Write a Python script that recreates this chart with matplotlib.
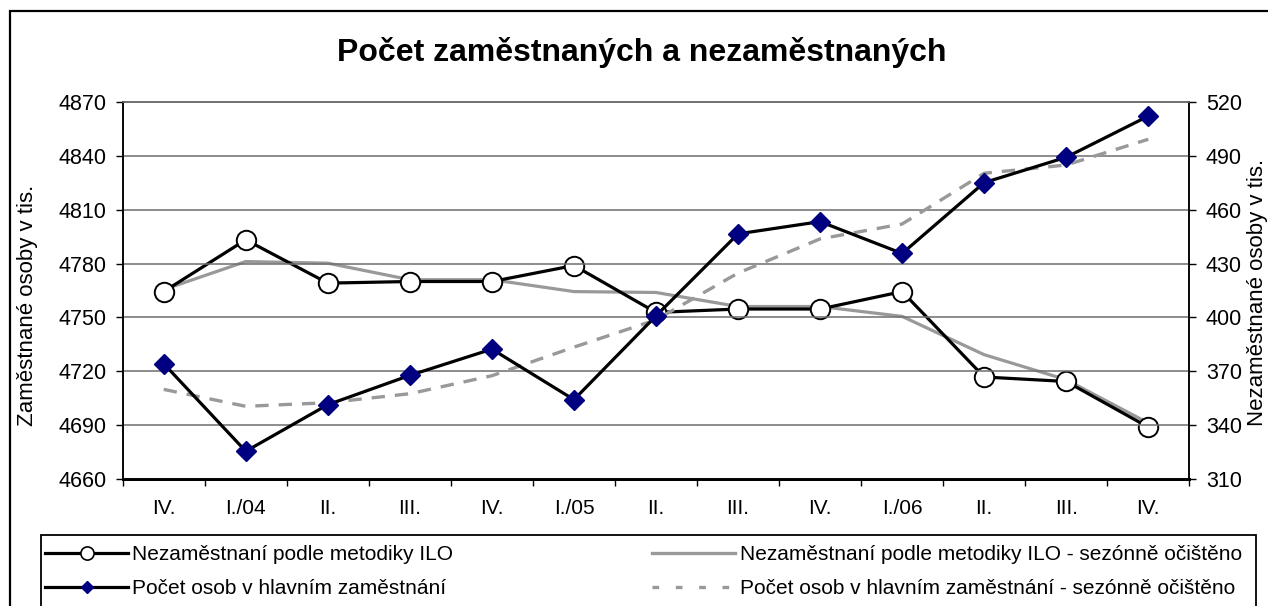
import matplotlib
matplotlib.use('Agg')
import matplotlib.pyplot as plt
from matplotlib.patches import Rectangle
from matplotlib.lines import Line2D
from matplotlib.ticker import FixedLocator

plt.rcParams['font.family'] = ['Liberation Sans', 'DejaVu Sans']

# data
kvartaly = ['IV.', 'I./04', 'II.', 'III.', 'IV.', 'I./05', 'II.', 'III.', 'IV.', 'I./06', 'II.', 'III.', 'IV.']
nezam_ilo = [414.4, 443.2, 419.1, 420.0, 420.0, 428.9, 402.8, 404.7, 404.7, 414.4, 366.9, 364.4, 339.0]
nezam_ilo_sa = [415.5, 431.1, 430.2, 421.0, 421.0, 414.4, 413.9, 406.1, 406.1, 400.6, 379.3, 365.4, 341.3]
zamest = [4724.3, 4675.6, 4701.5, 4717.8, 4732.4, 4704.3, 4750.9, 4796.5, 4803.3, 4785.6, 4825.0, 4839.1, 4862.0]
zamest_sa = [4710.0, 4700.6, 4702.6, 4707.6, 4717.6, 4733.5, 4748.7, 4774.7, 4793.7, 4802.0, 4830.2, 4834.8, 4849.1]

W, H = 1268, 606
fig = plt.figure(figsize=(W / 100, H / 100), dpi=100)
ax = fig.add_axes([122.7 / W, 1 - 479.3 / H, 1066.6 / W, 377.6 / H])
ax2 = ax.twinx()

x = list(range(len(kvartaly)))
seda = '#999999'

# levá osa - zaměstnaní
ax.plot(x, zamest_sa, color=seda, lw=2.4, dashes=(4, 3), zorder=2)
ax.plot(x, zamest, color='black', lw=2.3, marker='D', ms=10, mfc='#000080',
        mec='#000080', zorder=3)
ax.set_ylim(4660, 4870)
ax.set_yticks(range(4660, 4871, 30))
ax.set_xlim(-0.5, len(kvartaly) - 0.5)
ax.yaxis.grid(True, color='#6e6e6e', lw=1.1)
ax.set_axisbelow(True)

# pravá osa - nezaměstnaní
ax2.plot(x, nezam_ilo_sa, color=seda, lw=2.3, zorder=2)
ax2.plot(x, nezam_ilo, color='black', lw=2.3, marker='o', ms=14, mfc='white',
         mec='black', mew=1.4, zorder=3)
ax2.set_ylim(310, 520)
ax2.set_yticks(range(310, 521, 30))

# pořadí vrstev: pravá osa pod levou, aby kosočtverce byly nahoře
ax.set_zorder(ax2.get_zorder() + 1)
ax.patch.set_visible(False)

ax.set_xticks(x)
ax.set_xticklabels(kvartaly)
ax.xaxis.set_minor_locator(FixedLocator([i + 0.5 for i in range(-1, len(kvartaly))]))
ax.tick_params(axis='x', which='major', length=0, pad=14, labelsize=15)
ax.tick_params(axis='x', which='minor', length=5, width=1, direction='out')
ax.tick_params(axis='y', length=5, width=1, pad=6.5, labelsize=15.5)
ax2.tick_params(axis='y', length=5, width=1, pad=7, labelsize=15.5)

for a in (ax, ax2):
    a.spines['top'].set_color('#6e6e6e')
    a.spines['top'].set_linewidth(1.1)
    a.spines['left'].set_linewidth(1.1)
    a.spines['right'].set_linewidth(1.1)
    a.spines['bottom'].set_linewidth(2)

fig.text(642 / W, 1 - 53 / H, 'Počet zaměstnaných a nezaměstnaných',
         ha='center', va='center', fontsize=23, fontweight='bold')
fig.text(28 / W, 1 - 305 / H, 'Zaměstnané osoby v tis.', rotation=90,
         ha='center', va='center', fontsize=16)
fig.text(1257 / W, 1 - 292 / H, 'Nezaměstnané osoby v tis.', rotation=90,
         ha='center', va='center', fontsize=16)

# vnější rámeček grafu a rámeček legendy
fig.patches.append(Rectangle((10 / W, -0.1), 1.2, 1 - 11 / H + 0.1, transform=fig.transFigure,
                             fill=False, ec='black', lw=1.6))
fig.patches.append(Rectangle((41 / W, -0.1), (1256 - 41) / W, 1 - 535 / H + 0.1,
                             transform=fig.transFigure, fill=False, ec='black', lw=1.3))

h1 = Line2D([], [], color='black', lw=2.3, marker='o', ms=9.5, mfc='white', mec='black', mew=1.2)
h2 = Line2D([], [], color='black', lw=2.3, marker='D', ms=6.5, mfc='#000080', mec='#000080')
h3 = Line2D([], [], color=seda, lw=2.4)
h4 = Line2D([], [], color=seda, lw=2.4, dashes=(2, 5))

leg_kw = dict(frameon=False, fontsize=15, handlelength=4.0, handletextpad=0.2,
              labelspacing=0.74, borderpad=0, borderaxespad=0, loc='upper left')
leg1 = fig.legend([h1, h2], ['Nezaměstnaní podle metodiky ILO',
                             'Počet osob v hlavním zaměstnání'],
                  bbox_to_anchor=(45 / W, 1 - 545 / H), **leg_kw)
leg2 = fig.legend([h3, h4], ['Nezaměstnaní podle metodiky ILO - sezónně očištěno',
                             'Počet osob v hlavním zaměstnání - sezónně očištěno'],
                  bbox_to_anchor=(652 / W, 1 - 545 / H), **leg_kw)

fig.savefig('out.png', dpi=100)
